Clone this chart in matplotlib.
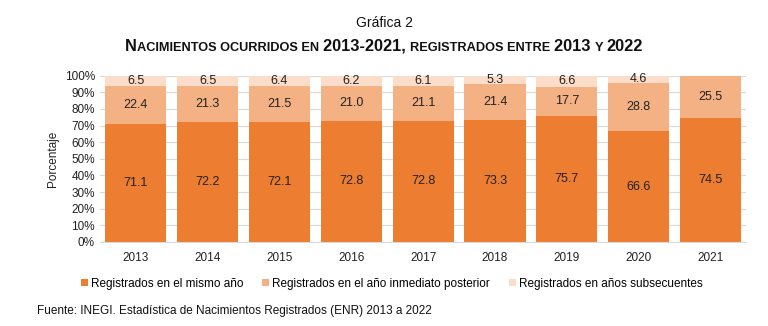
import numpy as np
import matplotlib.pyplot as plt

plt.rcParams['font.family'] = ['Liberation Sans', 'DejaVu Sans']

years = ['2013', '2014', '2015', '2016', '2017', '2018', '2019', '2020', '2021']
mismo = [71.1, 72.2, 72.1, 72.8, 72.8, 73.3, 75.7, 66.6, 74.5]
posterior = [22.4, 21.3, 21.5, 21.0, 21.1, 21.4, 17.7, 28.8, 25.5]
subsec = [6.5, 6.5, 6.4, 6.2, 6.1, 5.3, 6.6, 4.6, 0.0]
series_names = ['Registrados en el mismo año',
                'Registrados en el año inmediato posterior',
                'Registrados en años subsecuentes']
colors = ['#ED7D31', '#F4B183', '#FBDDC9']

fig = plt.figure(figsize=(7.68, 3.26), dpi=100)
ax = fig.add_axes([0.130, 0.258, 0.842, 0.510])

x = np.arange(len(years))
w = 0.85
bottom = np.zeros(len(years))
for vals, col, name in zip([mismo, posterior, subsec], colors, series_names):
    vals = np.array(vals)
    ax.bar(x, vals, w, bottom=bottom, color=col, label=name, zorder=2)
    for xi, b, v in zip(x, bottom, vals):
        if v > 0:
            ax.text(xi, b + v / 2, f'{v:.1f}', ha='center', va='center',
                    fontsize=9, color='#222222', zorder=3)
    bottom += vals

ax.set_xlim(-0.5, len(years) - 0.5)
ax.set_ylim(0, 100)
ax.set_yticks(np.arange(0, 101, 10))
ax.set_yticklabels([f'{v}%' for v in range(0, 101, 10)])
ax.set_xticks(x)
ax.set_xticklabels(years)
ax.tick_params(axis='both', length=0, labelsize=8.5, colors='#222222')
ax.tick_params(axis='x', pad=7)
ax.yaxis.grid(True, color='#D9D9D9', linewidth=0.8, zorder=0)
ax.set_axisbelow(True)
for s in ['top', 'right', 'left']:
    ax.spines[s].set_visible(False)
ax.spines['bottom'].set_color('#D9D9D9')
ax.set_ylabel('Porcentaje', fontsize=8.5, color='#222222', labelpad=4)

fig.legend(loc='center', bbox_to_anchor=(0.51, 0.13), ncol=3, frameon=False,
           fontsize=8.5, handlelength=0.6, handleheight=0.6, handletextpad=0.25,
           columnspacing=1.6)

fig.text(0.5, 0.93, 'Gráfica 2', ha='center', va='center', fontsize=10, color='#111111')

# small caps title built from pieces
pieces = [('N', 11.8), ('ACIMIENTOS OCURRIDOS EN ', 9.2), ('2013-2021, ', 11.8),
          ('REGISTRADOS ENTRE ', 9.2), ('2013 ', 11.8), ('Y ', 9.2), ('2022', 11.8)]
fig.canvas.draw()
r = fig.canvas.get_renderer()
texts = []
for s, fs in pieces:
    t = fig.text(0, 0.845, s, fontsize=fs, fontweight='bold', ha='left',
                 va='baseline', color='#111111')
    texts.append(t)
widths = [t.get_window_extent(renderer=r).width for t in texts]
figw = fig.bbox.width
start = (figw - sum(widths)) / 2
for t, wd in zip(texts, widths):
    t.set_x(start / figw)
    start += wd

fig.text(0.048, 0.045, 'Fuente: INEGI. Estadística de Nacimientos Registrados (ENR) 2013 a 2022',
         fontsize=8.5, color='#111111', va='center')

fig.savefig('out.png', dpi=100)
